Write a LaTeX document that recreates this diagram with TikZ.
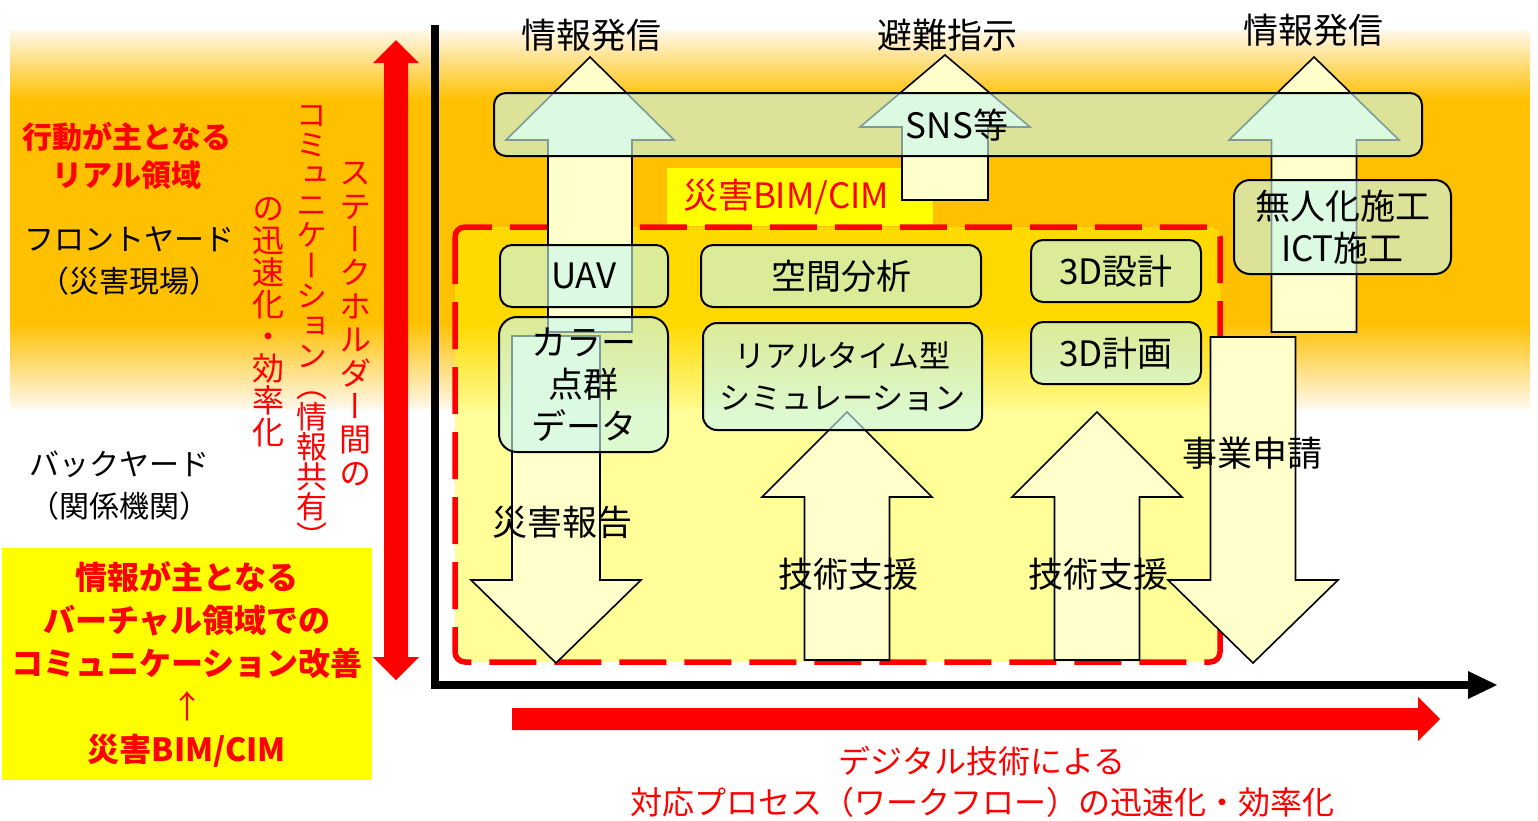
\documentclass[tikz,border=0pt]{standalone}
\usepackage{fontspec}
\setmainfont{Noto Sans CJK JP}
\newfontfamily\vfont[RawFeature=+vert]{Noto Sans CJK JP}
\definecolor{band}{RGB}{255,192,0}
\definecolor{bandpale}{RGB}{255,248,235}
\definecolor{ared}{RGB}{255,0,0}
\definecolor{ayel}{RGB}{255,255,0}
\definecolor{arrowfill}{RGB}{255,255,204}
\definecolor{boxfill}{RGB}{200,246,240}
\newcommand\tightlines{\lineskiplimit=-20pt\relax}
\newcommand\blockarr[6]{\draw[blk] ({#1-#6},#4) -- ({#1-#6},#3) -- ({#1-#5},#3) -- (#1,#2) -- ({#1+#5},#3) -- ({#1+#6},#3) -- ({#1+#6},#4) -- cycle;}
\tikzset{
  blk/.style={fill=arrowfill, draw=black, line width=0.8pt, line join=miter},
  boxst/.style={draw=black, line width=1pt, fill=boxfill, fill opacity=0.63, text opacity=1,
    rounded corners=6pt, inner sep=0pt, font=\fontsize{17.5}{21}\selectfont, align=center},
  lbl/.style={font=\fontsize{17.5}{21}\selectfont, inner sep=0pt, align=center},
  vtext/.style={inner sep=0pt, align=center, text=ared},
}
\begin{document}
\begin{tikzpicture}[x=0.5pt,y=-0.5pt]
\useasboundingbox (0,0) rectangle (1538,820);
% orange band
\shade[top color=bandpale, bottom color=band] (10,30) rectangle (1530,100);
\fill[band] (10,99.5) rectangle (1530,322.5);
\shade[top color=band, bottom color=bandpale] (10,322) rectangle (1530,408);
% left texts
\node[font=\bfseries\fontsize{15}{19}\selectfont, text=ared, align=center, inner sep=0pt] (real) at (127,156) {行動が主となる\\リアル領域};
\node[font=\fontsize{15}{21}\selectfont, align=center, inner sep=0pt] (front) at (130,261) {フロントヤード\\（災害現場）};
\node[font=\fontsize{15}{21}\selectfont, align=center, inner sep=0pt] (back) at (120,486) {バックヤード\\（関係機関）};
\node[fill=ayel, minimum width=185pt, minimum height=116pt, text=ared, inner sep=0pt,
  font=\bfseries\fontsize{16}{21.5}\selectfont, align=center] (virt) at (187,664)
  {情報が主となる\\バーチャル領域での\\コミュニケーション改善\\{\mdseries ↑}\\災害BIM/CIM};
% red vertical double arrow
\fill[ared] (396,40) -- (419,63) -- (408,63) -- (408,657) -- (419,657) -- (396,680) -- (373,657) -- (384,657) -- (384,63) -- (373,63) -- cycle;
% vertical texts
\node[vtext, font=\vfont\fontsize{16}{16.7}\selectfont\tightlines] (vc1) at (355,324) {ス\\テ\\ー\\ク\\ホ\\ル\\ダ\\ー\\間\\の};
\node[vtext, font=\vfont\fontsize{15.5}{15.1}\selectfont\tightlines] (vc2) at (312,327) {コ\\ミ\\ュ\\ニ\\ケ\\ー\\シ\\ョ\\ン\\（\\情\\報\\共\\有\\）};
\node[vtext, font=\vfont\fontsize{16}{16}\selectfont\tightlines] (vc3) at (268,322) {の\\迅\\速\\化\\・\\効\\率\\化};
% axes
\coordinate (ytop) at (435,25);
\coordinate (origin) at (435,685);
\coordinate (xend) at (1470,685);
\draw[line width=4pt] (ytop) -- (origin) -- (xend);
\fill (1468,671) -- (1497,685) -- (1468,699) -- cycle;
% label BIM/CIM
\node[fill=ayel, minimum width=133pt, minimum height=29pt, inner sep=0pt] (bimbox) at (799.5,197) {};
\node[lbl, text=ared] (bimtext) at (786,197) {災害BIM/CIM};
% dashed region
\draw[ared, line width=2.75pt, dash pattern=on 23.5pt off 9pt, fill=ayel, fill opacity=0.4, rounded corners=5pt] (455,227) rectangle (1220,662);
% block arrows: cx, tip, headbase, end, headhalf, shafthalf
\blockarr{590}{57}{140}{332}{84}{42}
\blockarr{556}{663}{580}{336}{85}{44}
\blockarr{945}{55}{127}{200}{85}{43}
\blockarr{1314}{57}{140}{332}{85}{42.5}
\blockarr{1253}{663}{580}{337}{85}{42.5}
\blockarr{847}{412}{497}{660}{85}{42.5}
\blockarr{1097}{412}{497}{660}{85}{42.5}
% bar and boxes
\node[boxst, minimum width=464pt, minimum height=31.5pt] (bar) at (958,124.5) {};
\node[lbl] (sns) at (957,125) {SNS等};
\node[boxst, minimum width=84pt, minimum height=31pt] (uav) at (584,276) {UAV};
\node[boxst, minimum width=140pt, minimum height=31pt] (space) at (841,276) {空間分析};
\node[boxst, minimum width=85pt, minimum height=31pt] (design) at (1116,271) {3D設計};
\node[boxst, rounded corners=9pt, minimum width=84.5pt, minimum height=67.5pt] (color) at (583.5,384.5) {カラー\\点群\\データ};
\node[boxst, rounded corners=7pt, minimum width=139.5pt, minimum height=53.5pt, font=\fontsize{15.5}{21}\selectfont] (sim) at (842.5,376.5) {リアルタイム型\\シミュレーション};
\node[boxst, minimum width=85pt, minimum height=31pt] (plan) at (1116,353) {3D計画};
\node[boxst, rounded corners=8pt, minimum width=108.5pt, minimum height=47pt] (unman) at (1342.5,227) {無人化施工\\ICT施工};
% arrow labels
\node[lbl] (infoL) at (591,35) {情報発信};
\node[lbl] (evac) at (947,35) {避難指示};
\node[lbl] (infoR) at (1313,30) {情報発信};
\node[lbl] (rep) at (562,522) {災害報告};
\node[lbl] (sup1) at (848,574) {技術支援};
\node[lbl] (sup2) at (1098,574) {技術支援};
\node[lbl] (app) at (1252,453) {事業申請};
% red horizontal arrow
\fill[ared] (512,708) -- (1418,708) -- (1418,697) -- (1440,719) -- (1418,741) -- (1418,730) -- (512,730) -- cycle;
\node[font=\fontsize{16}{20.5}\selectfont, text=ared, align=center, inner sep=0pt] (dig) at (982,782) {デジタル技術による\\対応プロセス（ワークフロー）の迅速化・効率化};
\end{tikzpicture}
\end{document}
